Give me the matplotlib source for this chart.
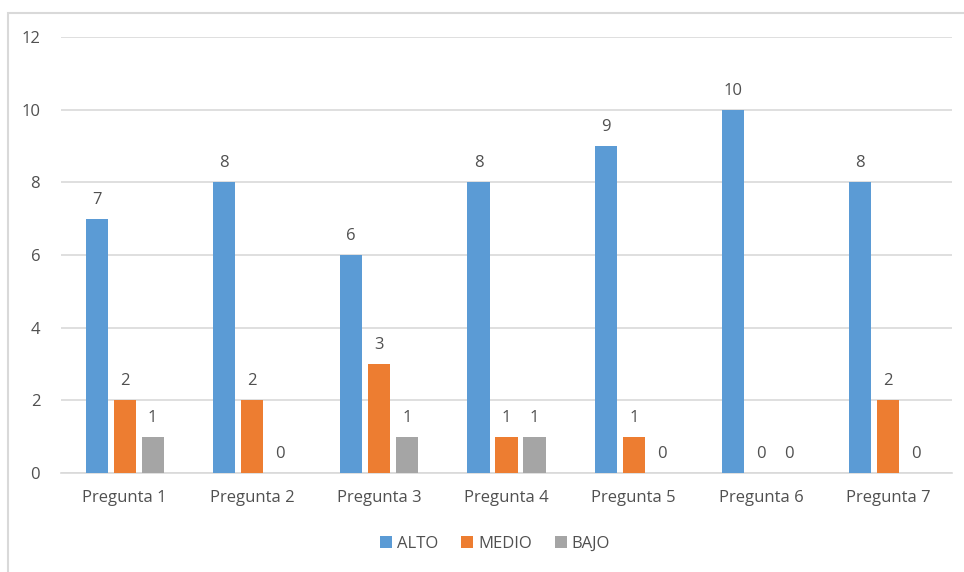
import matplotlib
matplotlib.use("Agg")
import matplotlib.pyplot as plt
import numpy as np
from matplotlib.patches import Rectangle

categories = ["Pregunta 1", "Pregunta 2", "Pregunta 3", "Pregunta 4",
              "Pregunta 5", "Pregunta 6", "Pregunta 7"]
alto = [7, 8, 6, 8, 9, 10, 8]
medio = [2, 2, 3, 1, 1, 0, 2]
bajo = [1, 0, 1, 1, 0, 0, 0]
series_names = ["ALTO", "MEDIO", "BAJO"]
colors = ["#5B9BD5", "#ED7D31", "#A5A5A5"]
yticks = [0, 2, 4, 6, 8, 10, 12]

plt.rcParams["font.family"] = ["Open Sans", "DejaVu Sans"]
text_color = "#505050"

fig = plt.figure(figsize=(9.64, 5.72), dpi=100)
ax = fig.add_axes([61 / 964, 1 - 473 / 572, (952 - 61) / 964, (473 - 37) / 572])

x = np.arange(len(categories))
width = 0.173
step = 0.22
for i, (vals, name, col) in enumerate(zip([alto, medio, bajo], series_names, colors)):
    pos = x + (i - 1) * step
    ax.bar(pos, vals, width, color=col, label=name, zorder=3)
    for xp, v in zip(pos, vals):
        ax.annotate(str(v), (xp, v), xytext=(0, 8), textcoords="offset points",
                    ha="center", va="bottom", fontsize=12, color=text_color)

ax.set_xlim(-0.5, len(categories) - 0.5)
ax.set_ylim(0, 12)
ax.set_yticks(yticks)
ax.set_yticklabels([str(t) for t in yticks])
ax.set_xticks(x)
ax.set_xticklabels(categories)
ax.tick_params(axis="both", length=0, labelsize=12, labelcolor=text_color)
ax.tick_params(axis="y", pad=15)
ax.tick_params(axis="x", pad=12)
ax.grid(axis="y", color="#D9D9D9", linewidth=1.2, zorder=0)
for s in ["top", "right", "left"]:
    ax.spines[s].set_visible(False)
ax.spines["bottom"].set_color("#D9D9D9")
ax.spines["bottom"].set_linewidth(1.2)

leg = fig.legend(loc="center", bbox_to_anchor=(495 / 964, 1 - 544 / 572), ncol=3,
                 frameon=False, fontsize=12, handlelength=0.7, handleheight=0.7,
                 handletextpad=0.3, columnspacing=1.4)
for t in leg.get_texts():
    t.set_color(text_color)

fig.patches.append(Rectangle((8 / 964, -0.1), 1.2, (572 - 13) / 572 + 0.1,
                             transform=fig.transFigure, fill=False,
                             edgecolor="#D9D9D9", linewidth=1.5))

fig.savefig("out.png", dpi=100)
